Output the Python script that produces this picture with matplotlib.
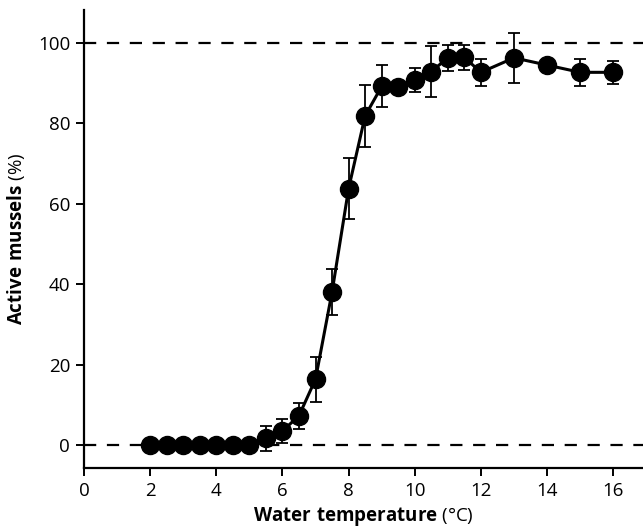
import matplotlib
matplotlib.use("Agg")
import matplotlib.pyplot as plt

plt.rcParams['font.family'] = ['Open Sans', 'DejaVu Sans']
plt.rcParams['mathtext.fontset'] = 'custom'
plt.rcParams['mathtext.rm'] = 'Open Sans'
plt.rcParams['mathtext.bf'] = 'Open Sans:bold'

# water temperature (°C) and share of active mussels (%)
temps = [2, 2.5, 3, 3.5, 4, 4.5, 5, 5.5, 6, 6.5, 7, 7.5, 8, 8.5, 9, 9.5,
         10, 10.5, 11, 11.5, 12, 13, 14, 15, 16]
active = [0, 0, 0, 0, 0, 0, 0, 1.7, 3.5, 7.3, 16.4, 38.1, 63.8, 81.9, 89.2, 89.0,
          90.9, 92.9, 96.3, 96.4, 92.7, 96.3, 94.5, 92.7, 92.7]
err = [0, 0, 0, 0, 0, 0, 0, 3.1, 3.0, 3.2, 5.6, 5.7, 7.6, 7.7, 5.2, 0,
       3.0, 6.3, 3.2, 3.2, 3.3, 6.3, 0, 3.3, 2.8]

x_ticks = [0, 2, 4, 6, 8, 10, 12, 14, 16]
y_ticks = [0, 20, 40, 60, 80, 100]

fig = plt.figure(figsize=(6.43, 5.31), dpi=100)
ax = fig.add_axes([84 / 643, 63 / 531, 559 / 643, 458 / 531])

# reference lines at 0 and 100 %
for level in (0, 100):
    ax.axhline(level, color='black', lw=1.6, ls=(0, (5.5, 4.8)), zorder=1)

ax.errorbar(temps, active, yerr=err, color='black', lw=2.2, marker='o',
            markersize=13, ecolor='black', elinewidth=1.3, capsize=4,
            capthick=1.3, zorder=3)

ax.set_xlim(0, 16.9)
ax.set_ylim(-5.7, 108.2)
ax.set_xticks(x_ticks)
ax.set_yticks(y_ticks)

for side in ('top', 'right'):
    ax.spines[side].set_visible(False)
for side in ('left', 'bottom'):
    ax.spines[side].set_linewidth(1.6)
ax.tick_params(direction='out', length=6, width=1.4, labelsize=13.5, pad=4)

ax.set_xlabel(r'$\mathbf{Water\ temperature}$ (°C)', fontsize=13.5, labelpad=4)
ax.set_ylabel(r'$\mathbf{Active\ mussels}$ (%)', fontsize=13.5, labelpad=8)

fig.savefig('out.png', dpi=100)
